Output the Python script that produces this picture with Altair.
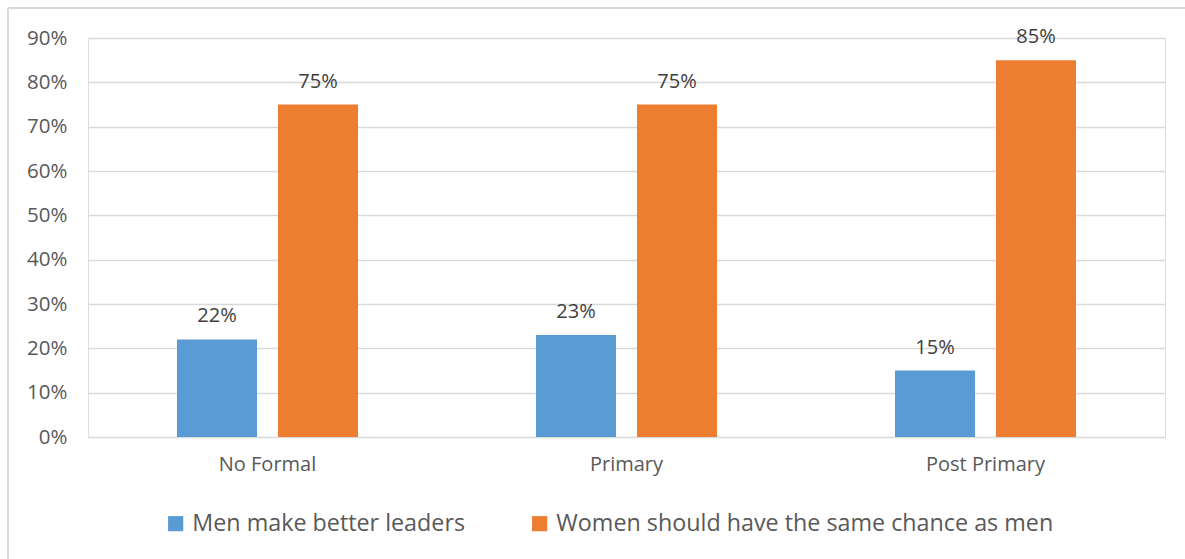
import altair as alt
import pandas as pd

categories = ["No Formal", "Primary", "Post Primary"]
series = ["Men make better leaders", "Women should have the same chance as men"]
men = [0.22, 0.23, 0.15]
women = [0.75, 0.75, 0.85]
colors = ["#5b9bd5", "#ed7d31"]

rows = []
for i, c in enumerate(categories):
    rows.append({"cat": c, "series": series[0], "value": men[i], "order": 0})
    rows.append({"cat": c, "series": series[1], "value": women[i], "order": 1})
df = pd.DataFrame(rows)

FONT = "Open Sans"

x = alt.X("cat:N", sort=categories, title=None,
          scale=alt.Scale(paddingInner=0, paddingOuter=0),
          axis=alt.Axis(labelAngle=0, labelFontSize=20, labelColor="#595959",
                        labelFont=FONT, labelPadding=17, ticks=False, domain=False, grid=False))
xo = alt.XOffset("series:N", sort=series,
                 scale=alt.Scale(paddingInner=0.208, paddingOuter=0.881))
y = alt.Y("value:Q", title=None,
          scale=alt.Scale(domain=[0, 0.9], nice=False),
          axis=alt.Axis(format=".0%", values=[i / 10 for i in range(10)],
                        labelFontSize=20.5, labelColor="#595959", labelFont=FONT,
                        labelPadding=21, ticks=False, domain=False,
                        gridColor="#d9d9d9", gridWidth=1.3))

bars = alt.Chart(df).mark_bar().encode(
    x=x, xOffset=xo, y=y,
    color=alt.Color("series:N", sort=series,
                    scale=alt.Scale(domain=series, range=colors),
                    legend=alt.Legend(title=None, orient="none", direction="horizontal",
                                      legendX=76, legendY=474, symbolType="square",
                                      symbolSize=230, symbolStrokeWidth=0,
                                      labelFontSize=23.3, labelColor="#595959",
                                      labelFont=FONT, columnPadding=62,
                                      labelOffset=5, labelLimit=0)),
)

labels = alt.Chart(df).mark_text(baseline="alphabetic", dy=-17, fontSize=20,
                                 color="#404040", font=FONT).encode(
    x=alt.X("cat:N", sort=categories), xOffset=alt.XOffset("series:N", sort=series), y="value:Q",
    text=alt.Text("value:Q", format=".0%"),
)

border_left = alt.Chart(df).mark_rule(color="#d9d9d9", strokeWidth=2).encode(
    x=alt.value(-80), y=alt.value(-30), y2=alt.value(600))
border_top = alt.Chart(df).mark_rule(color="#d9d9d9", strokeWidth=2).encode(
    x=alt.value(-80), x2=alt.value(1200), y=alt.value(-30))

chart = alt.layer(border_left, border_top, bars, labels).properties(
    width=1077, height=399,
    autosize=alt.AutoSizeParams(type="none"),
    padding={"left": 88, "top": 38, "right": 20, "bottom": 122},
).configure_view(stroke=None).configure(background="white")

chart.save("out.html", embed_options={"renderer": "svg", "actions": False})
